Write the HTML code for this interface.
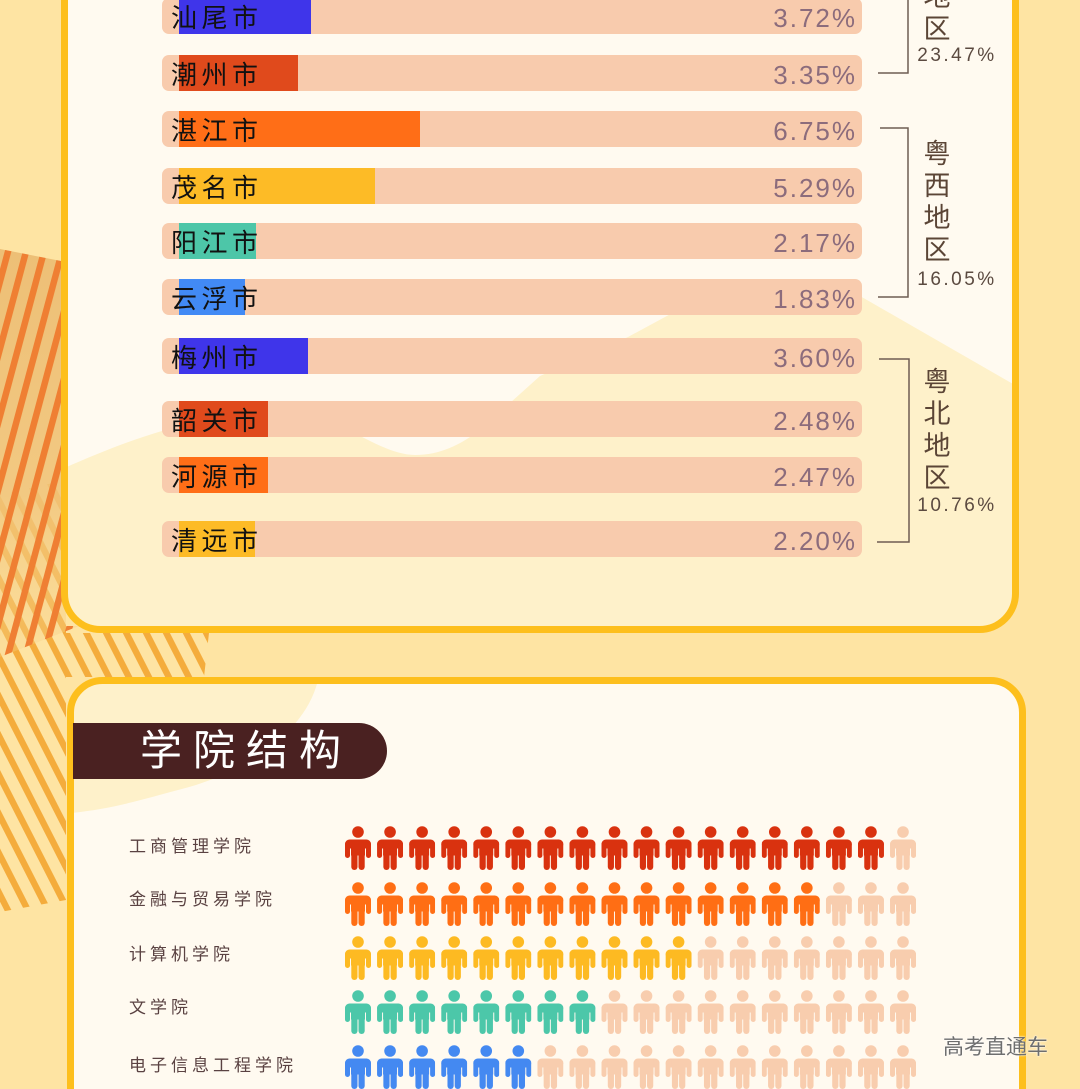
<!DOCTYPE html>
<html><head><meta charset="utf-8">
<style>
*{margin:0;padding:0;box-sizing:border-box}
html{width:1080px;height:1089px;overflow:hidden}
body{width:1080px;height:1089px;overflow:hidden;position:relative;background:#FEE4A3;font-family:"Liberation Sans","Noto Sans CJK SC",sans-serif}
.a{position:absolute}
.bar{position:absolute;left:162px;width:700px;height:36px;background:#F8CBAD;border-radius:7px}
.fill{position:absolute;left:179px;height:36px}
.lab{position:absolute;left:171px;height:36px;line-height:36px;padding-top:2px;font-size:26px;letter-spacing:4.5px;color:#111;white-space:nowrap}
.pct{position:absolute;right:223px;height:36px;line-height:36px;padding-top:2px;font-size:26px;letter-spacing:2px;color:#8C6C7C;text-align:right;white-space:nowrap}
.reg{position:absolute;left:917px;width:40px;text-align:center;font-size:27px;line-height:32px;color:#5B4536}
.rp{position:absolute;left:916px;width:82px;height:24px;line-height:24px;font-size:19px;letter-spacing:2.5px;color:#5B4A40;text-align:center;white-space:nowrap}
.col{position:absolute;left:129px;height:24px;line-height:24px;font-size:17px;letter-spacing:4px;color:#5A4242;white-space:nowrap}
</style></head><body>
<svg class="a" style="left:0;top:0" width="1080" height="1089" viewBox="0 0 1080 1089">
<defs>
<pattern id="pd" width="17.4" height="20" patternUnits="userSpaceOnUse" patternTransform="rotate(15)">
<rect x="0" y="0" width="6.5" height="20" fill="#EF7F33"/></pattern>
<pattern id="pl" width="17.8" height="20" patternUnits="userSpaceOnUse" patternTransform="rotate(-27)">
<rect x="0" y="0" width="6.4" height="20" fill="#F4AC3C"/></pattern>
<linearGradient id="tan" x1="0" y1="0" x2="0" y2="1">
<stop offset="0" stop-color="#EDBF76" stop-opacity="1"/>
<stop offset="0.6" stop-color="#F0C47C" stop-opacity="0.85"/>
<stop offset="1" stop-color="#F6D28A" stop-opacity="0.3"/></linearGradient>
<clipPath id="c1"><rect x="64.5" y="0" width="951" height="629.5" rx="36"/></clipPath>
<clipPath id="c2"><path d="M70.5,1089 L70.5,712.5 A32,32 0 0 1 102.5,680.5 L990.5,680.5 A32,32 0 0 1 1022.5,712.5 L1022.5,1089 Z"/></clipPath>
<symbol id="p" viewBox="0 0 26 44">
<circle cx="13" cy="6" r="5.8"/>
<rect x="0" y="13.5" width="26" height="9" rx="4.5"/>
<rect x="0" y="16" width="5" height="16" rx="2.5"/>
<rect x="21" y="16" width="5" height="16" rx="2.5"/>
<rect x="6" y="13.5" width="14" height="16"/>
<rect x="6.3" y="25" width="6.2" height="19" rx="3.1"/>
<rect x="13.5" y="25" width="6.2" height="19" rx="3.1"/>
</symbol>
</defs>
<polygon points="0,495 66,480 66,633 209,633 204,677 66,677 66,900 0,912" fill="url(#pl)"/>
<polygon points="0,249 66,262 66,626 79,626 0,657" fill="url(#tan)"/>
<polygon points="0,249 66,262 66,626 79,626 0,657" fill="url(#pd)"/>
<path d="M64.5,0 L64.5,593.5 A36,36 0 0 0 100.5,629.5 L979.5,629.5 A36,36 0 0 0 1015.5,593.5 L1015.5,0 Z" fill="#FFFAF0"/>
<g clip-path="url(#c1)">
<path d="M60,470 C100,452 150,432 190,424 C250,412 300,408 330,420 C360,435 390,455 415,455 C440,455 460,445 480,430 L540,376 L628,337 L665,317 C700,298 740,284 790,283 C830,283 850,290 867,300 L1020,388 L1020,640 L60,640 Z" fill="#FEF1CA"/>
</g>
<path d="M64.5,0 L64.5,593.5 A36,36 0 0 0 100.5,629.5 L979.5,629.5 A36,36 0 0 0 1015.5,593.5 L1015.5,0" fill="none" stroke="#FDBF1D" stroke-width="7"/>
<path d="M70.5,1089 L70.5,712.5 A32,32 0 0 1 102.5,680.5 L990.5,680.5 A32,32 0 0 1 1022.5,712.5 L1022.5,1089 Z" fill="#FFFAF0"/>
<g clip-path="url(#c2)">
<path d="M60,680 L318,680 C305,735 240,775 178,790 C140,800 110,810 60,814 Z" fill="#FEF1CA"/>
</g>
<path d="M70.5,1089 L70.5,712.5 A32,32 0 0 1 102.5,680.5 L990.5,680.5 A32,32 0 0 1 1022.5,712.5 L1022.5,1089" fill="none" stroke="#FDBF1D" stroke-width="7"/>
<g stroke="#6E5C52" stroke-width="1.5" fill="none">
<polyline points="878,73 908,73 908,0"/>
<polyline points="880,128 908,128 908,297 878,297"/>
<polyline points="879,359 909,359 909,542 877,542"/>
</g>
<g id="people"></g>
</svg>

<div class="bar" style="top:-2px"></div><div class="fill" style="top:-2px;width:132px;background:#3F35EA"></div>
<div class="bar" style="top:55px"></div><div class="fill" style="top:55px;width:119px;background:#E04A1C"></div>
<div class="bar" style="top:111px"></div><div class="fill" style="top:111px;width:241px;background:#FF6E17"></div>
<div class="bar" style="top:168px"></div><div class="fill" style="top:168px;width:196px;background:#FDBB26"></div>
<div class="bar" style="top:223px"></div><div class="fill" style="top:223px;width:77px;background:#4DC6A8"></div>
<div class="bar" style="top:279px"></div><div class="fill" style="top:279px;width:66px;background:#428AF5"></div>
<div class="bar" style="top:338px"></div><div class="fill" style="top:338px;width:129px;background:#3F35EA"></div>
<div class="bar" style="top:401px"></div><div class="fill" style="top:401px;width:89px;background:#E04A1C"></div>
<div class="bar" style="top:457px"></div><div class="fill" style="top:457px;width:89px;background:#FF6E17"></div>
<div class="bar" style="top:521px"></div><div class="fill" style="top:521px;width:76px;background:#FDBB26"></div>

<div class="lab" style="top:-2px">汕尾市</div><div class="pct" style="top:-2px">3.72%</div>
<div class="lab" style="top:55px">潮州市</div><div class="pct" style="top:55px">3.35%</div>
<div class="lab" style="top:111px">湛江市</div><div class="pct" style="top:111px">6.75%</div>
<div class="lab" style="top:168px">茂名市</div><div class="pct" style="top:168px">5.29%</div>
<div class="lab" style="top:223px">阳江市</div><div class="pct" style="top:223px">2.17%</div>
<div class="lab" style="top:279px">云浮市</div><div class="pct" style="top:279px">1.83%</div>
<div class="lab" style="top:338px">梅州市</div><div class="pct" style="top:338px">3.60%</div>
<div class="lab" style="top:401px">韶关市</div><div class="pct" style="top:401px">2.48%</div>
<div class="lab" style="top:457px">河源市</div><div class="pct" style="top:457px">2.47%</div>
<div class="lab" style="top:521px">清远市</div><div class="pct" style="top:521px">2.20%</div>

<div class="reg" style="top:-83px">粤<br>东<br>地<br>区</div>
<div class="rp" style="top:44px">23.47%</div>
<div class="reg" style="top:138px">粤<br>西<br>地<br>区</div>
<div class="rp" style="top:268px">16.05%</div>
<div class="reg" style="top:366px">粤<br>北<br>地<br>区</div>
<div class="rp" style="top:494px">10.76%</div>

<div class="a" style="left:73px;top:723px;width:314px;height:56px;background:#4A2121;border-radius:0 28px 28px 0"></div>
<div class="a" style="left:140px;top:723px;height:56px;line-height:56px;font-size:42px;letter-spacing:11px;color:#fff;white-space:nowrap">学院结构</div>

<div class="col" style="top:835px">工商管理学院</div>
<div class="col" style="top:888px">金融与贸易学院</div>
<div class="col" style="top:943px">计算机学院</div>
<div class="col" style="top:996px">文学院</div>
<div class="col" style="top:1054px">电子信息工程学院</div>

<div class="a" style="left:943px;top:1035px;font-size:21px;line-height:26px;color:#6E6E6E;text-shadow:0 0 2px #fff,0 0 1px #fff;white-space:nowrap">高考直通车</div>

<script>
(function(){
var g=document.getElementById('people');
var rows=[[826,17,'#D9320F'],[882,15,'#FF6E14'],[936,11,'#FDBA22'],[990,8,'#4CC7A9'],[1045,6,'#4489F1']];
var ns='http://www.w3.org/2000/svg';
for(var r=0;r<rows.length;r++){
for(var i=0;i<18;i++){
var u=document.createElementNS(ns,'use');
u.setAttribute('href','#p');
u.setAttributeNS('http://www.w3.org/1999/xlink','xlink:href','#p');
u.setAttribute('x',(345+i*32.06).toFixed(2));
u.setAttribute('y',rows[r][0]);
u.setAttribute('width','26');u.setAttribute('height','44');
u.setAttribute('fill',i<rows[r][1]?rows[r][2]:'#F8CDAE');
g.appendChild(u);
}}
})();
</script>
</body></html>
